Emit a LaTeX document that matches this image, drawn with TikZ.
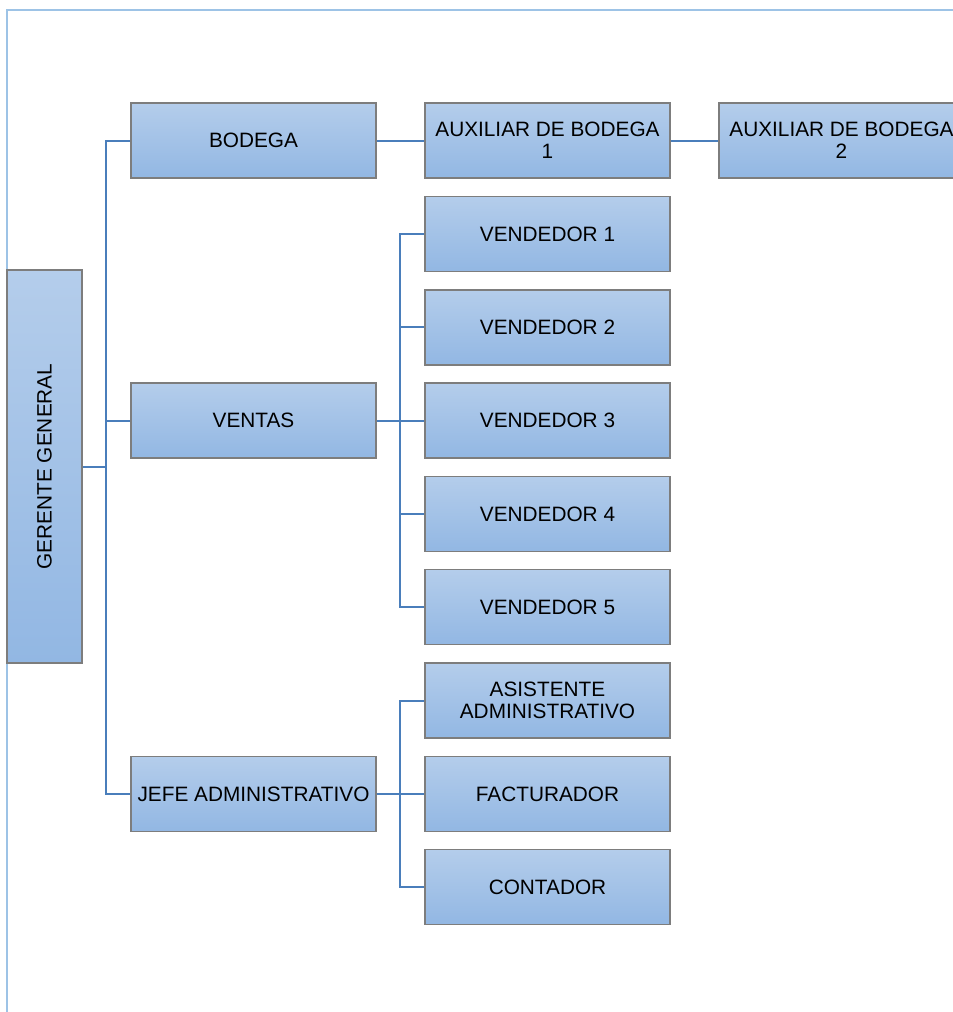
\documentclass[tikz,border=0pt]{standalone}
\usepackage{fontspec}
\setmainfont{Liberation Sans}
\usetikzlibrary{positioning}

\definecolor{boxtop}{RGB}{180,205,235}
\definecolor{boxbot}{RGB}{146,183,227}
\definecolor{boxline}{RGB}{125,125,125}
\definecolor{linkblue}{RGB}{74,126,187}
\definecolor{framblue}{RGB}{157,195,230}

\tikzset{
    orgbox/.style={draw=boxline, line width=0.7pt, top color=boxtop, bottom color=boxbot,
        minimum width=122.5pt, minimum height=37.5pt, inner sep=1pt, align=center,
        font=\fontsize{10.4}{11}\selectfont},
    link/.style={draw=linkblue, line width=1pt},
}

\begin{document}
\begin{tikzpicture}[x=0.5pt, y=-0.5pt]
\clip (0,0) rectangle (953,1012);
\useasboundingbox (0,0) rectangle (953,1012);
\draw[framblue, line width=1.2pt] (7,1030) -- (7,10) -- (970,10);

% first level
\node[orgbox, minimum width=37.5pt, minimum height=196.5pt] (ger) at (44.5,466.5)
    {\rotatebox{90}{GERENTE GENERAL}};
\node[orgbox] (bod)  at (253.5,140.5) {BODEGA};
\node[orgbox] (ven)  at (253.5,420.5) {VENTAS};
\node[orgbox] (jefe) at (253.5,794)   {JEFE ADMINISTRATIVO};

% bodega
\node[orgbox] (aux1) at (547.5,140.5) {AUXILIAR DE BODEGA\\1};
\node[orgbox] (aux2) at (841.5,140.5) {AUXILIAR DE BODEGA\\2};

% ventas
\foreach \i in {1,...,5}
    \node[orgbox] (vend\i) at (547.5,{234+93.3*(\i-1)}) {VENDEDOR \i};

% administracion
\node[orgbox] (asis) at (547.5,700.5) {ASISTENTE\\ADMINISTRATIVO};
\node[orgbox] (fact) at (547.5,794)   {FACTURADOR};
\node[orgbox] (cont) at (547.5,887)   {CONTADOR};

% connectors
\coordinate (spine) at (106,466.5);
\coordinate (vspine) at (400,420.5);
\coordinate (aspine) at (400,794);
\draw[link] (ger.east) -- (spine);
\foreach \n in {bod,ven,jefe}
    \draw[link] (\n.west) -| (spine);
\draw[link] (ven.east) -- (vspine);
\foreach \i in {1,...,5}
    \draw[link] (vend\i.west) -| (vspine);
\draw[link] (jefe.east) -- (aspine);
\foreach \n in {asis,fact,cont}
    \draw[link] (\n.west) -| (aspine);
\draw[link] (bod) -- (aux1);
\draw[link] (aux1) -- (aux2);
\end{tikzpicture}
\end{document}
